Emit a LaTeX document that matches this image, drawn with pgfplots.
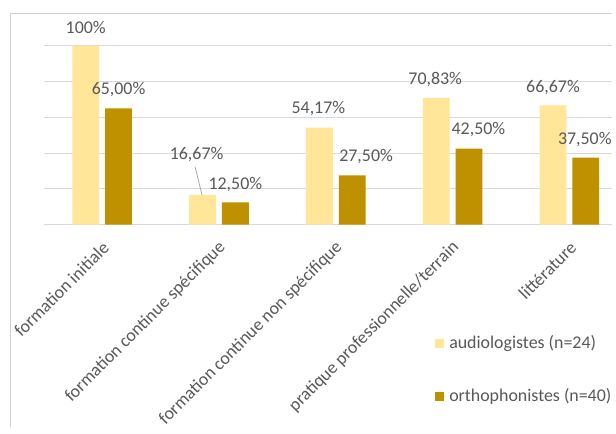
\documentclass[border=0pt]{standalone}
\usepackage{fontspec}
\setmainfont{Carlito}
\usepackage{pgfplots}
\pgfplotsset{compat=1.18}
\definecolor{lightgold}{HTML}{FFE699}
\definecolor{darkgold}{HTML}{BF9000}
\definecolor{txt}{HTML}{595959}
\definecolor{gridc}{HTML}{D9D9D9}
\definecolor{framec}{HTML}{D0D0D0}
\newcommand{\lblfont}{\fontsize{13.5}{16}\selectfont}
\begin{document}
\begin{tikzpicture}[x=0.75pt,y=0.75pt]
\fill[white] (-44,-204) rectangle (572,226);
\draw[framec, line width=0.9pt] (-33.5,-204) -- (-33.5,212.5) -- (572,212.5);
\begin{axis}[
  at={(0pt,0pt)}, anchor=south west, scale only axis,
  width=429pt, height=135pt,
  xmin=-0.5, xmax=4.368, ymin=0, ymax=100,
  clip=false,
  ybar=4.5pt, bar width=20.25pt,
  axis line style={draw=none},
  ymajorgrids, major grid style={gridc, line width=0.75pt},
  ytick={0,20,40,60,80,100}, yticklabels={},
  major tick length=0pt,
  xtick={0,1,2,3,4},
  xticklabels={formation initiale, formation continue spécifique, formation continue non spécifique, pratique professionnelle/terrain, littérature},
  xticklabel style={xshift=5.25pt, yshift=-12.75pt, rotate=45, anchor=east, font=\lblfont, text=txt},
  point meta=explicit symbolic,
  nodes near coords={\pgfplotspointmeta\%},
  visualization depends on={\thisrow{dx} \as \dx},
  visualization depends on={\thisrow{dy} \as \dy},
  nodes near coords style={anchor=center, font=\lblfont, text=txt, xshift={\dx*0.75pt}, yshift={\dy*0.75pt}},
  legend style={at={(axis description cs:0.687,-0.605)}, anchor=north west, draw=none, fill=none, font=\lblfont, text=txt, row sep=24.5pt, inner sep=0pt},
  legend cell align=left,
  legend image code/.code={\fill[#1, draw=none] (0pt,-3.4pt) rectangle (6.8pt,3.4pt); \path (0pt,0pt) -- (9pt,0pt);},
]
\addplot[fill=lightgold, draw=none] table[x=x, y=y, meta=lab] {
x y lab dx dy
0 100 100 0 18
1 16.67 16,67 -6 41
2 54.17 54,17 -1 19
3 70.83 70,83 -1 19
4 66.67 66,67 0 18
};
\addlegendentry{audiologistes (n=24)}
\addplot[fill=darkgold, draw=none] table[x=x, y=y, meta=lab] {
x y lab dx dy
0 65 65,00 0 19
1 12.5 12,50 0 18
2 27.5 27,50 14 19
3 42.5 42,50 9.5 19
4 37.5 37,50 -1 18
};
\addlegendentry{orthophonistes (n=40)}
\draw[gray!70, line width=0.6pt] (axis cs:0.796,32.2) -- (axis cs:0.855,16.67);
\end{axis}
\end{tikzpicture}
\end{document}
